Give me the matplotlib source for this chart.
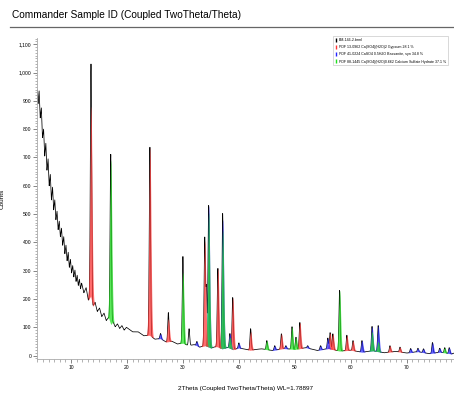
import numpy as np
import matplotlib
matplotlib.use("Agg")
from matplotlib import pyplot as plt
from matplotlib.lines import Line2D
from matplotlib.ticker import MultipleLocator, FuncFormatter

plt.rcParams['font.family'] = ['Liberation Sans Narrow', 'Liberation Sans', 'DejaVu Sans']

bg_x = [3.9, 4.1, 4.3, 4.5, 4.7, 4.9, 5.1, 5.3, 5.5, 5.7, 5.9, 6.1, 6.3, 6.5, 6.7,
        6.9, 7.1, 7.3, 7.5, 7.7, 7.9, 8.1, 8.3, 8.5, 8.7, 8.9, 9.1, 9.3, 9.5, 9.7,
        9.9, 10.1, 10.3, 10.5, 10.7, 10.9, 11.1, 11.3, 11.5, 11.7, 11.9, 12.3, 12.7,
        13.1, 13.5, 13.9, 14.3, 14.7, 15.1, 15.5, 15.9, 16.3, 16.7, 17.1, 17.5, 17.9,
        18.3, 18.7, 19.1, 19.5, 19.9, 21, 22, 23, 24, 25, 26, 27, 28, 29, 30, 31, 32,
        33, 34, 35, 36, 37, 38, 39, 40, 42, 44, 46, 48, 50, 52, 54, 56, 58, 60, 62,
        64, 66, 68, 70, 72, 74, 76, 78, 78.5]
bg_y = [945, 890, 935, 840, 875, 770, 800, 705, 750, 655, 695, 600, 640, 550, 595,
        515, 550, 480, 510, 445, 475, 420, 450, 390, 420, 360, 390, 335, 365, 312,
        340, 292, 318, 278, 302, 262, 284, 248, 270, 236, 256, 222, 240,
        196, 210, 174, 188, 156, 168, 138, 150, 124, 134, 110, 120, 102,
        112, 96, 106, 90, 100, 84, 84, 70, 72, 58, 60, 48, 51, 41, 44, 35, 39,
        30, 35, 27, 32, 24, 29, 21, 27, 19, 24, 18, 25, 22, 28, 18, 25, 16, 19, 12,
        17, 10, 15, 9, 14, 7, 12, 6, 9]

# observed peaks: position (2theta) and top (counts)
obs_pos = [13.57, 17.1, 24.1, 26.0, 27.4, 30.0, 31.1, 32.5, 33.9, 34.2, 34.6, 36.25,
           37.1, 38.4, 38.9, 40.0, 42.1, 45.0, 46.4, 47.6, 48.4, 49.5, 50.2, 50.9,
           52.3, 54.6, 55.9, 56.3, 56.8, 58.0, 59.3, 60.4, 62.0, 63.8, 64.9, 67.0,
           68.8, 70.7, 72.0, 73.0, 74.6, 75.9, 76.8, 77.6]
obs_top = [1030, 711, 736, 78, 152, 350, 95, 50, 414, 240, 530, 308,
           502, 78, 205, 45, 95, 53, 35, 77, 35, 102, 65, 117,
           35, 35, 62, 81, 77, 230, 72, 53, 53, 103, 106, 35,
           30, 25, 26, 24, 46, 26, 28, 28]

# phase contributions: position, top of coloured area, phase
fill_pos = [13.57, 17.1, 24.1, 26.0, 27.4, 30.0, 32.5, 33.9, 34.6, 34.6, 36.25,
            37.1, 37.1, 38.4, 38.4, 38.9, 40.0, 42.1, 45.0, 46.4, 47.6, 48.4, 49.5,
            50.2, 50.9, 52.3, 54.6, 55.9, 56.3, 56.8, 58.0, 59.3, 60.4, 62.0, 63.8,
            63.8, 64.9, 64.9, 67.0, 68.8, 70.7, 72.0, 73.0, 74.6, 75.9, 76.8, 77.6]
fill_top = [880, 690, 736, 78, 130, 295, 50, 405, 530, 505, 308,
            480, 442, 78, 65, 205, 45, 85, 53, 35, 77, 35, 102,
            65, 117, 35, 35, 62, 81, 77, 230, 72, 53, 53, 103,
            85, 106, 50, 35, 30, 25, 26, 24, 46, 26, 28, 28]
fill_phase = ['G', 'C', 'G', 'B', 'G', 'C', 'B', 'G', 'B', 'C', 'G',
              'B', 'C', 'B', 'C', 'G', 'B', 'G', 'C', 'B', 'G', 'B', 'C',
              'C', 'G', 'B', 'B', 'B', 'G', 'G', 'C', 'G', 'G', 'B', 'B',
              'C', 'B', 'C', 'G', 'G', 'B', 'B', 'B', 'B', 'B', 'C', 'B']

phase_colors = {'G': '#ff3535', 'B': '#2525ff', 'C': '#1ee01e'}
legend_labels = ["BM-146-2.brml",
                 "PDF 13-0962 Ca(SO4)(H2O)2 Gypsum 28.1 %",
                 "PDF 41-0224 CaSO4 0.5H2O Bassanite, syn 34.8 %",
                 "PDF 88-1445 Ca(SO4)(H2O)0.662 Calcium Sulfate Hydrate 37.1 %"]

x = np.arange(3.9, 78.5, 0.01)
bg = np.interp(x, bg_x, bg_y)


def profile(pos, w):
    return np.exp(-0.5 * ((x - pos) / w) ** 2)


obs = bg.copy()
for p, t in zip(obs_pos, obs_top):
    obs += (t - np.interp(p, bg_x, bg_y)) * profile(p, 0.11)

fig = plt.figure(figsize=(4.54, 3.93), dpi=100)
ax = fig.add_axes([37 / 454, 34 / 393, 1 - 37 / 454, 321 / 393])

ax.plot(x, obs, color='black', lw=0.55, zorder=2)

# higher contributions first so lower ones sit on top
order = sorted(range(len(fill_pos)), key=lambda i: -fill_top[i])
for i in order:
    p = fill_pos[i]
    m = np.abs(x - p) < 0.6
    h = fill_top[i] - np.interp(p, bg_x, bg_y)
    ax.fill_between(x[m], bg[m], bg[m] + h * profile(p, 0.19)[m],
                    color=phase_colors[fill_phase[i]], alpha=0.72, lw=0, zorder=3)

ax.set_xlim(3.92, 78.45)
ax.set_ylim(-12, 1122)
ax.xaxis.set_major_locator(MultipleLocator(10))
ax.xaxis.set_minor_locator(MultipleLocator(1))
ax.yaxis.set_major_locator(MultipleLocator(100))
ax.yaxis.set_minor_locator(MultipleLocator(10))
ax.yaxis.set_major_formatter(FuncFormatter(lambda v, _: f"{v:,.0f}"))
ax.tick_params(which='major', length=3, width=0.5, color='#555555', labelsize=3.6, pad=1)
ax.tick_params(which='minor', length=1.8, width=0.4, color='#777777')
for s in ['top', 'right']:
    ax.spines[s].set_visible(False)
for s in ['left', 'bottom']:
    ax.spines[s].set_color('#aaaaaa')
    ax.spines[s].set_linewidth(0.6)

ax.set_xlabel("2Theta (Coupled TwoTheta/Theta) WL=1.78897", fontsize=4.6, labelpad=12)
ax.set_ylabel("Counts", fontsize=4.6, labelpad=10)

fig.text(12 / 454, 1 - 15 / 393, "Commander Sample ID (Coupled TwoTheta/Theta)",
         fontsize=7.3, va='center', ha='left')
fig.add_artist(Line2D([10 / 454, 1], [1 - 27 / 393, 1 - 27 / 393],
                      color='#666666', lw=0.9, transform=fig.transFigure))

handles = [Line2D([], [], color=c, marker='|', linestyle='none', markersize=3.5, mew=1.0)
           for c in ['black', phase_colors['G'], phase_colors['B'], phase_colors['C']]]
leg = ax.legend(handles, legend_labels, loc='upper left',
                bbox_to_anchor=(333 / 454, 1 - 36 / 393), bbox_transform=fig.transFigure,
                fontsize=2.6, frameon=True, fancybox=False, edgecolor='#bbbbbb',
                handlelength=0.6, handletextpad=0.6, labelspacing=0.9, borderpad=0.5,
                borderaxespad=0)
leg.get_frame().set_linewidth(0.5)

fig.savefig("out.png", dpi=100)
